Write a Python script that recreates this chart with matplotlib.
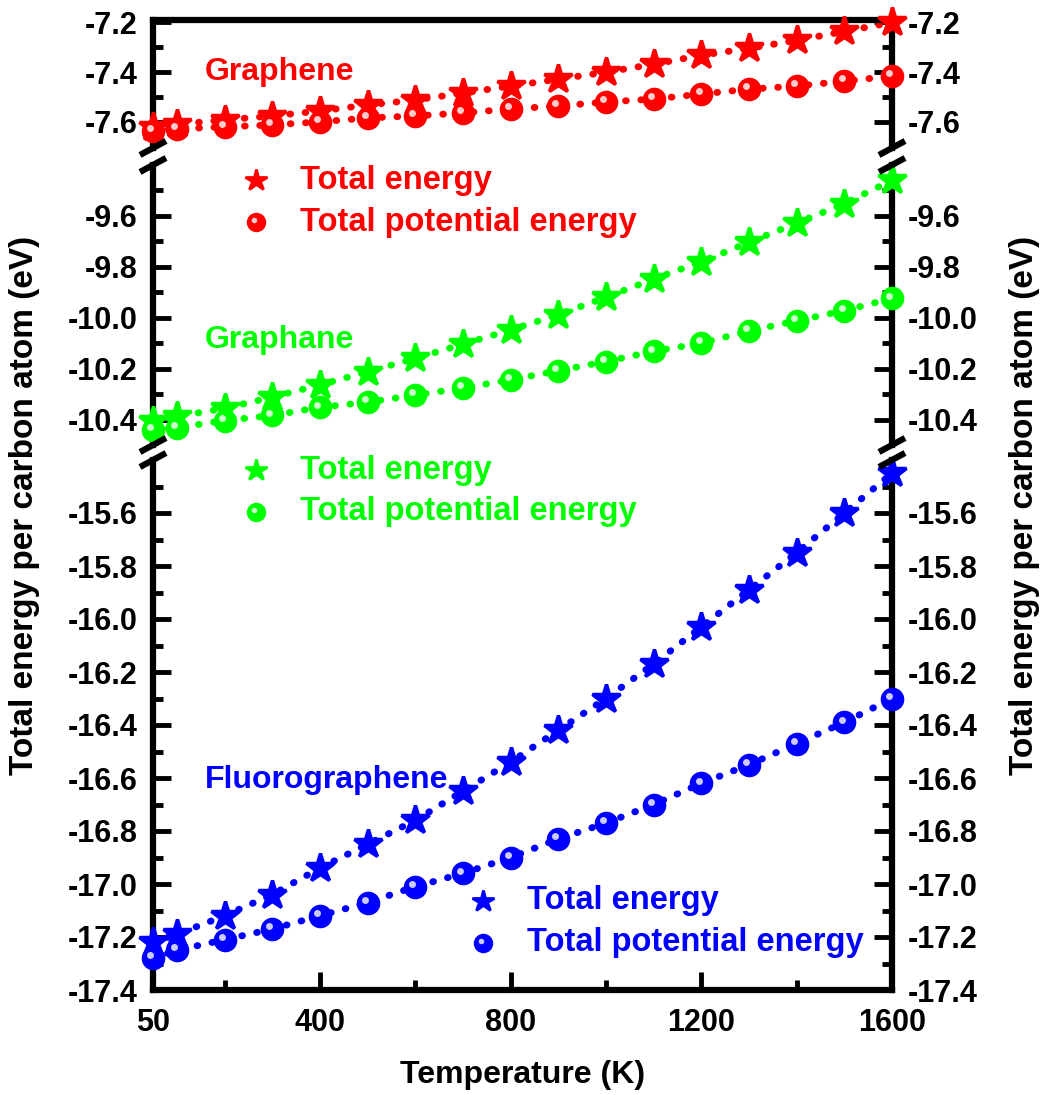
import numpy as np
import matplotlib.pyplot as plt
from matplotlib.lines import Line2D
from matplotlib.ticker import FixedLocator, FormatStrFormatter
from matplotlib.transforms import ScaledTranslation

plt.rcParams['font.family'] = ['Liberation Sans', 'DejaVu Sans']
plt.rcParams['font.weight'] = 'bold'
plt.rcParams['axes.unicode_minus'] = False

# data (eV per carbon atom)
temperature = [50, 100, 200, 300, 400, 500, 600, 700, 800, 900, 1000, 1100, 1200, 1300, 1400, 1500, 1600]

graphene_total = [-7.62, -7.61, -7.592, -7.576, -7.556, -7.532, -7.512, -7.484, -7.456,
                  -7.428, -7.40, -7.368, -7.332, -7.304, -7.272, -7.236, -7.20]
graphene_pot = [-7.636, -7.628, -7.62, -7.612, -7.60, -7.584, -7.576, -7.564, -7.548,
                -7.536, -7.52, -7.508, -7.488, -7.468, -7.456, -7.436, -7.416]

graphane_total = [-10.404, -10.388, -10.356, -10.312, -10.264, -10.212, -10.16, -10.104, -10.048,
                  -9.988, -9.92, -9.848, -9.78, -9.704, -9.628, -9.552, -9.46]
graphane_pot = [-10.44, -10.432, -10.404, -10.384, -10.352, -10.332, -10.304, -10.276, -10.244,
                -10.208, -10.172, -10.132, -10.10, -10.052, -10.012, -9.972, -9.924]

fluoro_total = [-17.22, -17.19, -17.12, -17.04, -16.94, -16.85, -16.76, -16.65, -16.54,
                -16.42, -16.30, -16.17, -16.03, -15.89, -15.75, -15.60, -15.45]
fluoro_pot = [-17.28, -17.25, -17.21, -17.17, -17.12, -17.07, -17.01, -16.96, -16.90,
              -16.83, -16.77, -16.70, -16.62, -16.55, -16.47, -16.39, -16.30]

x_ticks = [50, 400, 800, 1200, 1600]
x_minor = [200, 600, 1000, 1400]
top_ticks = [-7.6, -7.4, -7.2]
top_minor = [-7.5, -7.3]
mid_ticks = [-10.4, -10.2, -10.0, -9.8, -9.6]
mid_minor = [-10.3, -10.1, -9.9, -9.7, -9.5]
bot_ticks = [-17.4, -17.2, -17.0, -16.8, -16.6, -16.4, -16.2, -16.0, -15.8, -15.6]
bot_minor = [-17.3, -17.1, -16.9, -16.7, -16.5, -16.3, -16.1, -15.9, -15.7, -15.5]

RED, GREEN, BLUE = '#ff0000', '#00ff00', '#0000ff'

W, H = 1047, 1095
fig = plt.figure(figsize=(W / 100, H / 100), dpi=100)


def fx(px):
    return px / W


def fy(py):
    return 1 - py / H


left_px, right_px = 153, 892
# panel pixel extents (top, bottom), y-limits, ticks
panels = [(20, 148, (-7.705, -7.19), top_ticks, top_minor),
          (165, 445, (-10.5, -9.4), mid_ticks, mid_minor),
          (460, 990, (-17.4, -15.4), bot_ticks, bot_minor)]

axes = []
for i, (t, b, ylim, maj, mnr) in enumerate(panels):
    ax = fig.add_axes([fx(left_px), fy(b), fx(right_px) - fx(left_px), (b - t) / H])
    ax.set_xlim(50, 1600)
    ax.set_ylim(*ylim)
    ax.yaxis.set_major_locator(FixedLocator(maj))
    ax.yaxis.set_minor_locator(FixedLocator(mnr))
    ax.yaxis.set_major_formatter(FormatStrFormatter('%.1f'))
    ax.tick_params(axis='y', which='both', direction='in', left=True, right=True,
                   labelleft=True, labelright=True, width=3.5, labelsize=22, pad=11)
    ax.tick_params(axis='y', which='major', length=13)
    ax.tick_params(axis='y', which='minor', length=7)
    for s in ax.spines.values():
        s.set_linewidth(4.5)
    if i > 0:
        ax.spines['top'].set_visible(False)
    if i < 2:
        ax.spines['bottom'].set_visible(False)
        ax.tick_params(axis='x', which='both', bottom=False, labelbottom=False)
    ax.tick_params(axis='x', which='both', top=False)
    ax.patch.set_alpha(0)
    axes.append(ax)

ax_b = axes[2]
ax_b.xaxis.set_major_locator(FixedLocator(x_ticks))
ax_b.xaxis.set_minor_locator(FixedLocator(x_minor))
ax_b.tick_params(axis='x', which='both', direction='in', width=3.5, labelsize=22, pad=13)
ax_b.tick_params(axis='x', which='major', length=13)
ax_b.tick_params(axis='x', which='minor', length=7)
ax_b.set_xlabel('Temperature (K)', fontsize=23, fontweight='bold', labelpad=16)

dots = (0, (0.1, 2.1))
hl_offset = ScaledTranslation(-2 / 72, 2 / 72, fig.dpi_scale_trans)


def draw_series(ax, y, color, marker):
    ax.plot(temperature, y, linestyle=dots, lw=5, color=color, dash_capstyle='round',
            zorder=2, clip_on=False)
    if marker == '*':
        ax.plot(temperature, y, ls='none', marker='*', ms=21, mew=2.5, mec=color,
                mfc=color, zorder=3, clip_on=False)
    else:
        ax.plot(temperature, y, ls='none', marker='o', ms=17, mew=0, mfc=color,
                zorder=3, clip_on=False)
        ax.plot(temperature, y, ls='none', marker='o', ms=5, mew=0, mfc='white', alpha=0.8,
                zorder=4, clip_on=False, transform=ax.transData + hl_offset)


draw_series(axes[0], graphene_total, RED, '*')
draw_series(axes[0], graphene_pot, RED, 'o')
draw_series(axes[1], graphane_total, GREEN, '*')
draw_series(axes[1], graphane_pot, GREEN, 'o')
draw_series(axes[2], fluoro_total, BLUE, '*')
draw_series(axes[2], fluoro_pot, BLUE, 'o')

# break marks on both spines
for t_lo, b_up in [(148, 165), (445, 460)]:
    for xp in (left_px, right_px):
        for yp in (t_lo, b_up):
            fig.add_artist(Line2D([fx(xp - 13), fx(xp + 13)], [fy(yp + 7), fy(yp - 7)],
                                  transform=fig.transFigure, color='black', lw=4.5,
                                  solid_capstyle='butt'))

# labels and legends
fig.text(fx(205), fy(72), 'Graphene', color=RED, fontsize=23, va='center')
fig.text(fx(205), fy(340), 'Graphane', color=GREEN, fontsize=23, va='center')
fig.text(fx(205), fy(780), 'Fluorographene', color=BLUE, fontsize=23, va='center')

legends = [(256, 180, RED), (256, 470, GREEN), (483, 901, BLUE)]
for mx, my, c in legends:
    fig.add_artist(Line2D([fx(mx)], [fy(my)], transform=fig.transFigure, marker='*',
                          ms=16, mew=2, mec=c, mfc=c, ls='none'))
    fig.add_artist(Line2D([fx(mx)], [fy(my + 42)], transform=fig.transFigure, marker='o',
                          ms=14, mew=0, mfc=c, ls='none'))
    fig.add_artist(Line2D([fx(mx - 2)], [fy(my + 40)], transform=fig.transFigure, marker='o',
                          ms=4, mew=0, mfc='white', alpha=0.8, ls='none'))
    fig.text(fx(mx + 44), fy(my), 'Total energy', color=c, fontsize=23.5, va='center')
    fig.text(fx(mx + 44), fy(my + 42), 'Total potential energy', color=c, fontsize=23.5,
             va='center')

ylab = 'Total energy per carbon atom (eV)'
fig.text(fx(25), fy(505), ylab, rotation=90, fontsize=24, ha='center', va='center')
fig.text(fx(1025), fy(505), ylab, rotation=90, fontsize=24, ha='center', va='center')

fig.savefig('out.png', dpi=100)
